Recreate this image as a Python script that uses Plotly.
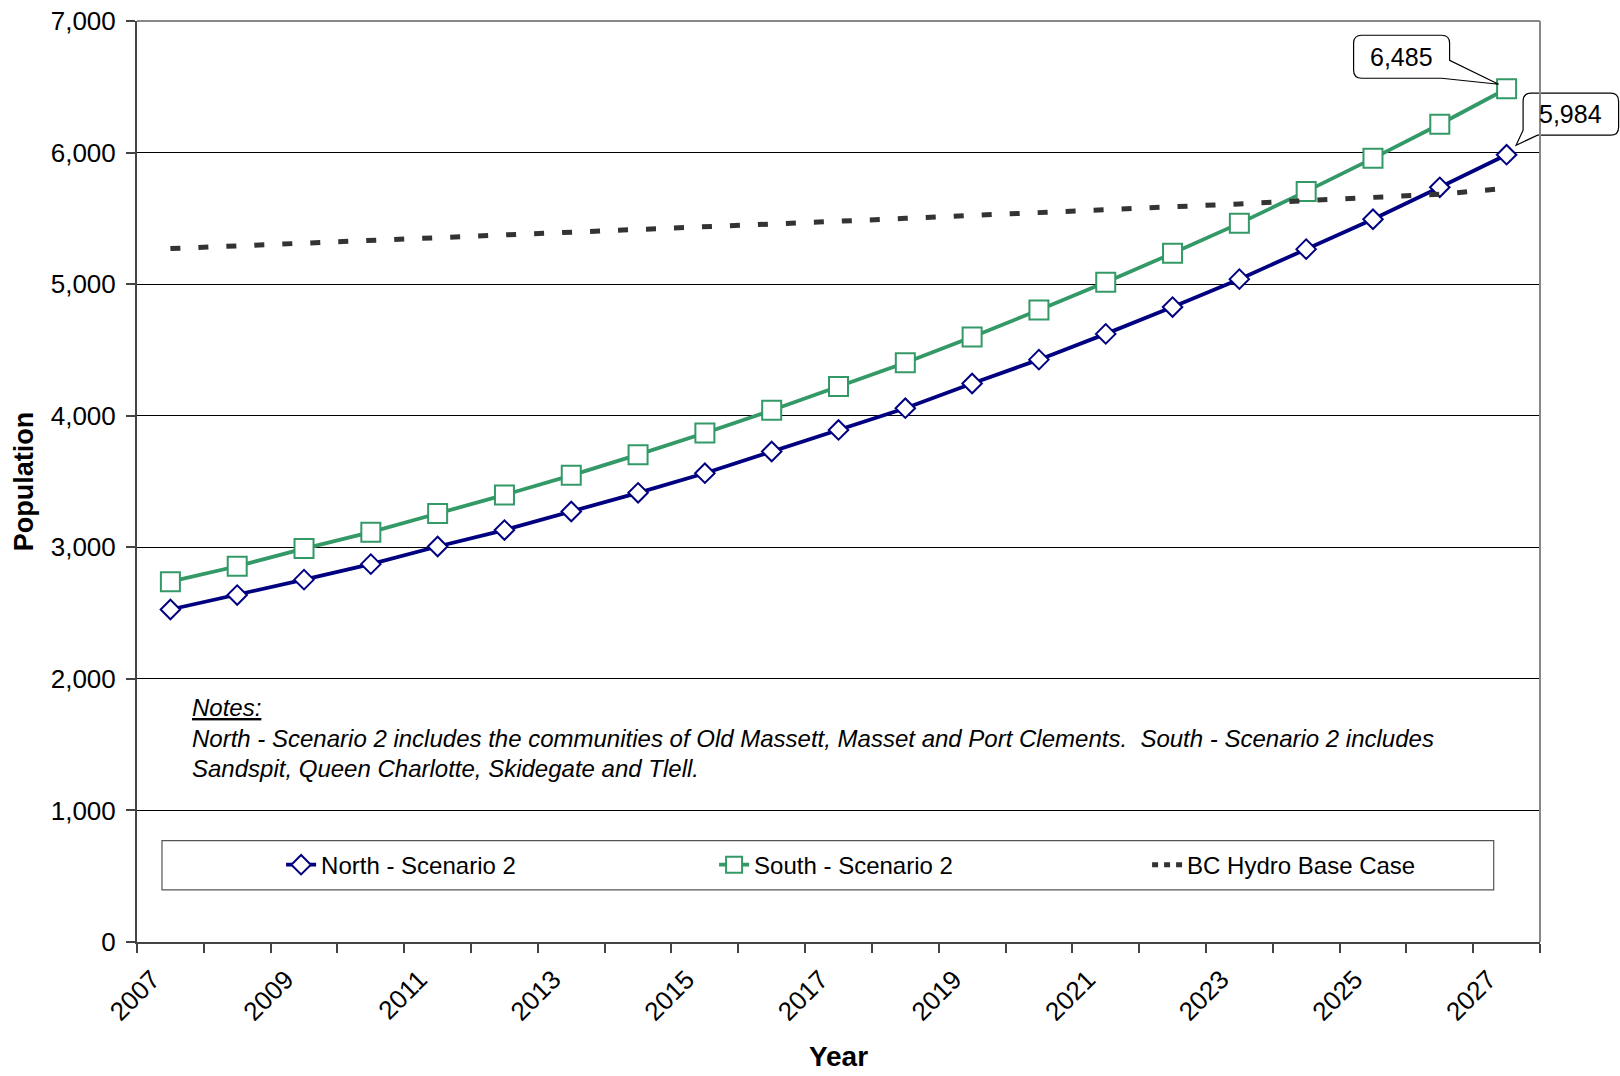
import plotly.graph_objects as go

years = list(range(2007, 2028))
north = [2527, 2637, 2754, 2872, 3006, 3131, 3272, 3414, 3563, 3728, 3892,
         4057, 4245, 4426, 4622, 4826, 5038, 5266, 5493, 5736, 5984]
south = [2739, 2856, 2990, 3115, 3257, 3398, 3547, 3704, 3869, 4041, 4222,
         4402, 4599, 4803, 5015, 5234, 5462, 5705, 5956, 6215, 6485]
bc_hydro = [5270, 5290, 5312, 5332, 5352, 5372, 5394, 5414, 5436, 5456, 5478,
            5500, 5520, 5542, 5565, 5588, 5610, 5634, 5658, 5684, 5728]
label_years = list(range(2007, 2028, 2))
y_ticks = list(range(0, 7001, 1000))
notes_lines = [
    "<i><u>Notes:</u></i>",
    "<i>North - Scenario 2 includes the communities of Old Massett, Masset and Port Clements.&nbsp;&nbsp;South - Scenario 2 includes</i>",
    "<i>Sandspit, Queen Charlotte, Skidegate and Tlell.</i>",
]

FONT = "Liberation Sans, Arial, sans-serif"
NAVY = "#000080"
GREEN = "#339966"
DARK = "#333333"
X_RANGE = [2006.5, 2027.5]
Y_RANGE = [0, 7000]

fig = go.Figure()
fig.add_trace(go.Scatter(
    x=years, y=north, name="North - Scenario 2", mode="lines+markers",
    line=dict(color=NAVY, width=3.8),
    marker=dict(symbol="diamond", size=15, color="white", line=dict(color=NAVY, width=2)),
))
fig.add_trace(go.Scatter(
    x=years, y=south, name="South - Scenario 2", mode="lines+markers",
    line=dict(color=GREEN, width=3.8),
    marker=dict(symbol="square", size=19, color="white", line=dict(color=GREEN, width=2)),
))
fig.add_trace(go.Scatter(
    x=years, y=bc_hydro, name="BC Hydro Base Case", mode="lines", showlegend=False,
    legendgroup="bc", line=dict(color=DARK, width=5, dash="10px,18px"),
))
# legend entry for the dashed series (shorter dash so the small sample shows "- - -")
fig.add_trace(go.Scatter(
    x=[None], y=[None], name="BC Hydro Base Case", mode="lines", legendgroup="bc",
    line=dict(color=DARK, width=5, dash="6px,6px"),
))


def callout_path(L, R, T, B, tail, r=8):
    """Rounded callout box (pixel offsets from anchor, y up) with a wedge tail."""
    pts = tail
    if pts["side"] == "right-bottom":
        return (f"M{L+r},{T} L{R-r},{T} Q{R},{T} {R},{T-r} L{R},{pts['a']} "
                f"L{pts['tip'][0]},{pts['tip'][1]} L{pts['b']},{B} L{L+r},{B} "
                f"Q{L},{B} {L},{B+r} L{L},{T-r} Q{L},{T} {L+r},{T} Z")
    return (f"M{L+r},{T} L{R-r},{T} Q{R},{T} {R},{T-r} L{R},{B+r} Q{R},{B} {R-r},{B} "
            f"L{pts['b']},{B} L{pts['tip'][0]},{pts['tip'][1]} L{L},{pts['a']} "
            f"L{L},{T-r} Q{L},{T} {L+r},{T} Z")


def to_paper_x(v):
    return (v - X_RANGE[0]) / (X_RANGE[1] - X_RANGE[0])


def to_paper_y(v):
    return (v - Y_RANGE[0]) / (Y_RANGE[1] - Y_RANGE[0])


callouts = [
    dict(x=years[-1], y=south[-1], L=-153, R=-57, T=53.5, B=10.5,
         tail=dict(side="right-bottom", a=28.5, tip=(-8, 4.5), b=-65)),
    dict(x=years[-1], y=north[-1], L=16.5, R=112, T=61.5, B=19.5,
         tail=dict(side="left-bottom", a=24.5, tip=(9.5, 9.5), b=31)),
]
for c in callouts:
    px, py = to_paper_x(c["x"]), to_paper_y(c["y"])
    fig.add_shape(type="path", xref="paper", yref="paper", xsizemode="pixel", ysizemode="pixel",
                  xanchor=px, yanchor=py,
                  path=callout_path(c["L"], c["R"], c["T"], c["B"], c["tail"]),
                  fillcolor="white", line=dict(color="black", width=1.2), layer="above")
    fig.add_annotation(x=px, y=py, xref="paper", yref="paper", text=f"{c['y']:,}",
                       showarrow=False, xanchor="center", yanchor="middle",
                       xshift=(c["L"] + c["R"]) / 2, yshift=(c["T"] + c["B"]) / 2,
                       font=dict(size=25, color="black", family=FONT))

# notes
for txt, yy in zip(notes_lines, [1780, 1544, 1316]):
    fig.add_annotation(x=2007.29, y=yy, xref="x", yref="y", text=txt, showarrow=False,
                       xanchor="left", yanchor="middle", align="left",
                       font=dict(size=24, color="black", family=FONT))

# legend frame
fig.add_shape(type="rect", xref="paper", yref="paper", x0=0.0178, x1=0.967,
              y0=0.0567, y1=0.110, line=dict(color="#555555", width=1.2),
              fillcolor="white", layer="below")
# plot frame (top/right gray)
fig.add_shape(type="line", xref="paper", yref="paper", x0=0, x1=1, y0=1, y1=1,
              line=dict(color="#888888", width=2), layer="above")
fig.add_shape(type="line", xref="paper", yref="paper", x0=1, x1=1, y0=0, y1=1,
              line=dict(color="#888888", width=2), layer="above")

fig.update_layout(
    width=1620, height=1076,
    margin=dict(l=137, r=80, t=21, b=134),
    paper_bgcolor="white", plot_bgcolor="white",
    font=dict(family=FONT, size=24, color="black"),
    showlegend=True,
    legend=dict(orientation="h", x=0.1027, y=0.0835, xanchor="left", yanchor="middle",
                bgcolor="rgba(0,0,0,0)", borderwidth=0,
                entrywidth=388, entrywidthmode="pixels",
                font=dict(size=24, family=FONT, color="black")),
    xaxis=dict(range=X_RANGE, tickvals=label_years, ticktext=[str(y) for y in label_years],
               ticks="", tickangle=-45, showgrid=False, zeroline=False, automargin=False,
               showline=True, linecolor="#444444", linewidth=2,
               tickfont=dict(size=26, family=FONT), ticklabeloverflow="allow",
               ticklabelstandoff=10, ticklabelshift=-18,
               minor=dict(tickvals=[y - 0.5 for y in years] + [X_RANGE[1]], ticks="outside",
                          ticklen=9, tickcolor="#444444", tickwidth=1.5, showgrid=False),
               title=dict(text="<b>Year</b>", font=dict(size=28, family=FONT), standoff=21)),
    yaxis=dict(range=Y_RANGE, tickvals=y_ticks, tickformat=",d", automargin=False,
               ticks="outside", ticklen=9, tickcolor="#444444", tickwidth=1.5,
               showgrid=True, gridcolor="black", gridwidth=1, zeroline=False,
               showline=True, linecolor="#444444", linewidth=2,
               tickfont=dict(size=26, family=FONT), ticklabelstandoff=5,
               ticklabeloverflow="allow",
               title=dict(text="<b>Population</b>", font=dict(size=27, family=FONT), standoff=9)),
)

fig.write_html("out.html", config={"displayModeBar": False},
               post_script="document.body.style.margin='0';")
